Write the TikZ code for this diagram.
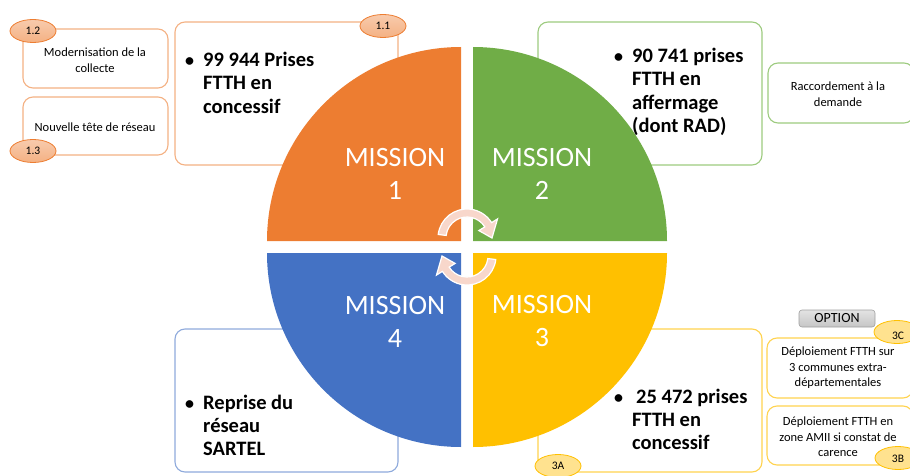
\documentclass[tikz,border=0pt]{standalone}
\usepackage{fontspec}
\setmainfont{Carlito}
\usetikzlibrary{shapes.geometric}
\definecolor{morange}{HTML}{ED7D31}
\definecolor{mgreen}{HTML}{70AD47}
\definecolor{mblue}{HTML}{4472C4}
\definecolor{myellow}{HTML}{FFC000}
\definecolor{lorange}{HTML}{F4B183}
\definecolor{lorangetop}{HTML}{F8CBAD}
\definecolor{lgreen}{HTML}{9DCB7F}
\definecolor{lblue}{HTML}{8FAADC}
\definecolor{lyellow}{HTML}{FFD34F}
\definecolor{yellfill}{HTML}{FFE28F}
\definecolor{arrowpink}{HTML}{F8D7CB}
\newcommand\smallt{\fontsize{12.5}{15.5}\selectfont}
\newcommand\bigb{\fontsize{20.5}{23}\selectfont\bfseries}
\newcommand\misf{\fontsize{28}{33}\selectfont}
\newcommand\lblf{\fontsize{11.5}{13}\selectfont}
\newcommand\bul{{\fontsize{18}{18}\selectfont\textbullet}}
\begin{document}
\begin{tikzpicture}[x=1pt,y=1pt,
  box/.style={draw, line width=1.1pt, rounded corners=10pt, fill=white, inner sep=0},
  small/.style={font=\smallt, align=center, inner sep=0},
  bigtext/.style={anchor=base west, inner sep=0, font=\bigb},
  oell/.style={ellipse, draw=morange, line width=0.8pt, top color=lorangetop, bottom color=lorange, inner sep=0, minimum width=46, minimum height=23, font=\lblf},
  yell/.style={ellipse, draw=myellow, line width=0.8pt, fill=yellfill, inner sep=0, minimum width=46, minimum height=23, font=\lblf},
  mis/.style={font=\misf, text=white, align=center, inner sep=0},
  circarrow/.style={fill=arrowpink, draw=white, line width=1.2pt}]
\useasboundingbox (0,0) rectangle (910,475);
\clip (0,0) rectangle (910,475);
% boxes
\node[box, draw=lorange, minimum width=223, minimum height=143] (b1) at (286.5,381.5) {};
\node[box, draw=lorange, minimum width=145, minimum height=59] (b12) at (95.5,416.5) {};
\node[box, draw=lorange, minimum width=145, minimum height=58] (b13) at (95.5,349) {};
\node[box, draw=lgreen, minimum width=224, minimum height=143] (b2) at (650,381.5) {};
\node[box, draw=lgreen, minimum width=146, minimum height=60] (b2r) at (841,382) {};
\node[box, draw=lyellow, minimum width=224, minimum height=143] (b3) at (650,74.5) {};
\node[box, draw=lyellow, minimum width=146, minimum height=60] (b3c) at (840,107) {};
\node[box, draw=lyellow, minimum width=146, minimum height=59] (b3b) at (840,39.5) {};
\node[box, draw=lblue, minimum width=223, minimum height=143] (b4) at (286.5,74.5) {};
% labels
\node[oell] (e11) at (383,449) {1.1};
\node[oell] (e12) at (33,444) {1.2};
\node[oell] (e13) at (33,324) {1.3};
\node[yell] (e3a) at (558,9) {3A};
\node[yell] (e3c) at (897,143) {};
\node[font=\lblf, inner sep=0] (l3c) at (898,139) {3C};
\node[yell] (e3b) at (898,17) {};
\node[font=\lblf, inner sep=0] (l3b) at (898,16) {3B};
\node[rounded corners=3pt, draw=gray!75, line width=0.6pt, top color=gray!22, bottom color=gray!45, minimum width=76, minimum height=17, inner sep=0, font=\fontsize{14}{15}\selectfont] (opt) at (837,156.5) {OPTION};
% quadrants
\fill[morange] (461,234) -- (267,234) arc[start angle=180, end angle=90, radius=194] -- cycle;
\fill[mgreen] (473,234) -- (473,428) arc[start angle=90, end angle=0, radius=194] -- cycle;
\fill[myellow] (473,222) -- (667,222) arc[start angle=0, end angle=-90, radius=194] -- cycle;
\fill[mblue] (461,222) -- (461,28) arc[start angle=270, end angle=180, radius=194] -- cycle;
% mission labels
\node[mis] (m1) at (395,301.5) {MISSION\\1};
\node[mis] (m2) at (542,301.5) {MISSION\\2};
\node[mis] (m3) at (542,153.5) {MISSION\\3};
\node[mis] (m4) at (395,153.5) {MISSION\\4};
% circular arrows
\begin{scope}[shift={(467,237)}]
\filldraw[circarrow] (173:29) arc[start angle=173, end angle=32, radius=29] -- (32:36) -- (0:25) -- (32:14) -- (32:21) arc[start angle=32, end angle=173, radius=21] -- cycle;
\end{scope}
\begin{scope}[shift={(467,219)}]
\filldraw[circarrow] (-7:29) arc[start angle=-7, end angle=-148, radius=29] -- (-148:36) -- (180:25) -- (-148:14) -- (-148:21) arc[start angle=-148, end angle=-7, radius=21] -- cycle;
\end{scope}
% big texts
\node[bigtext] (t1) at (185,408) {\parbox[t]{200pt}{\makebox[18pt][l]{\bul}99 944 Prises\\\hspace*{18pt}FTTH en\\\hspace*{18pt}concessif}};
\node[bigtext] (t2) at (614,412) {\parbox[t]{200pt}{\makebox[18pt][l]{\bul}90 741 prises\\\hspace*{18pt}FTTH en\\\hspace*{18pt}affermage\\\hspace*{18pt}(dont RAD)}};
\node[bigtext] (t3) at (614,72) {\parbox[t]{200pt}{\makebox[18pt][l]{\bul}\hspace*{4pt}25 472 prises\\\hspace*{18pt}FTTH en\\\hspace*{18pt}concessif}};
\node[bigtext] (t4) at (185,66) {\parbox[t]{200pt}{\makebox[18pt][l]{\bul}Reprise du\\\hspace*{18pt}réseau\\\hspace*{18pt}SARTEL}};
% small texts
\node[small] (s12) at (95,415) {Modernisation de la\\collecte};
\node[small] (s13) at (95,348) {Nouvelle tête de réseau};
\node[small] (s2r) at (838,381) {Raccordement à la\\demande};
\node[small] (s3c) at (838,107) {Déploiement FTTH sur\\3 communes extra-\\départementales};
\node[small] (s3b) at (838,38) {Déploiement FTTH en\\zone AMII si constat de\\carence};
\end{tikzpicture}
\end{document}
